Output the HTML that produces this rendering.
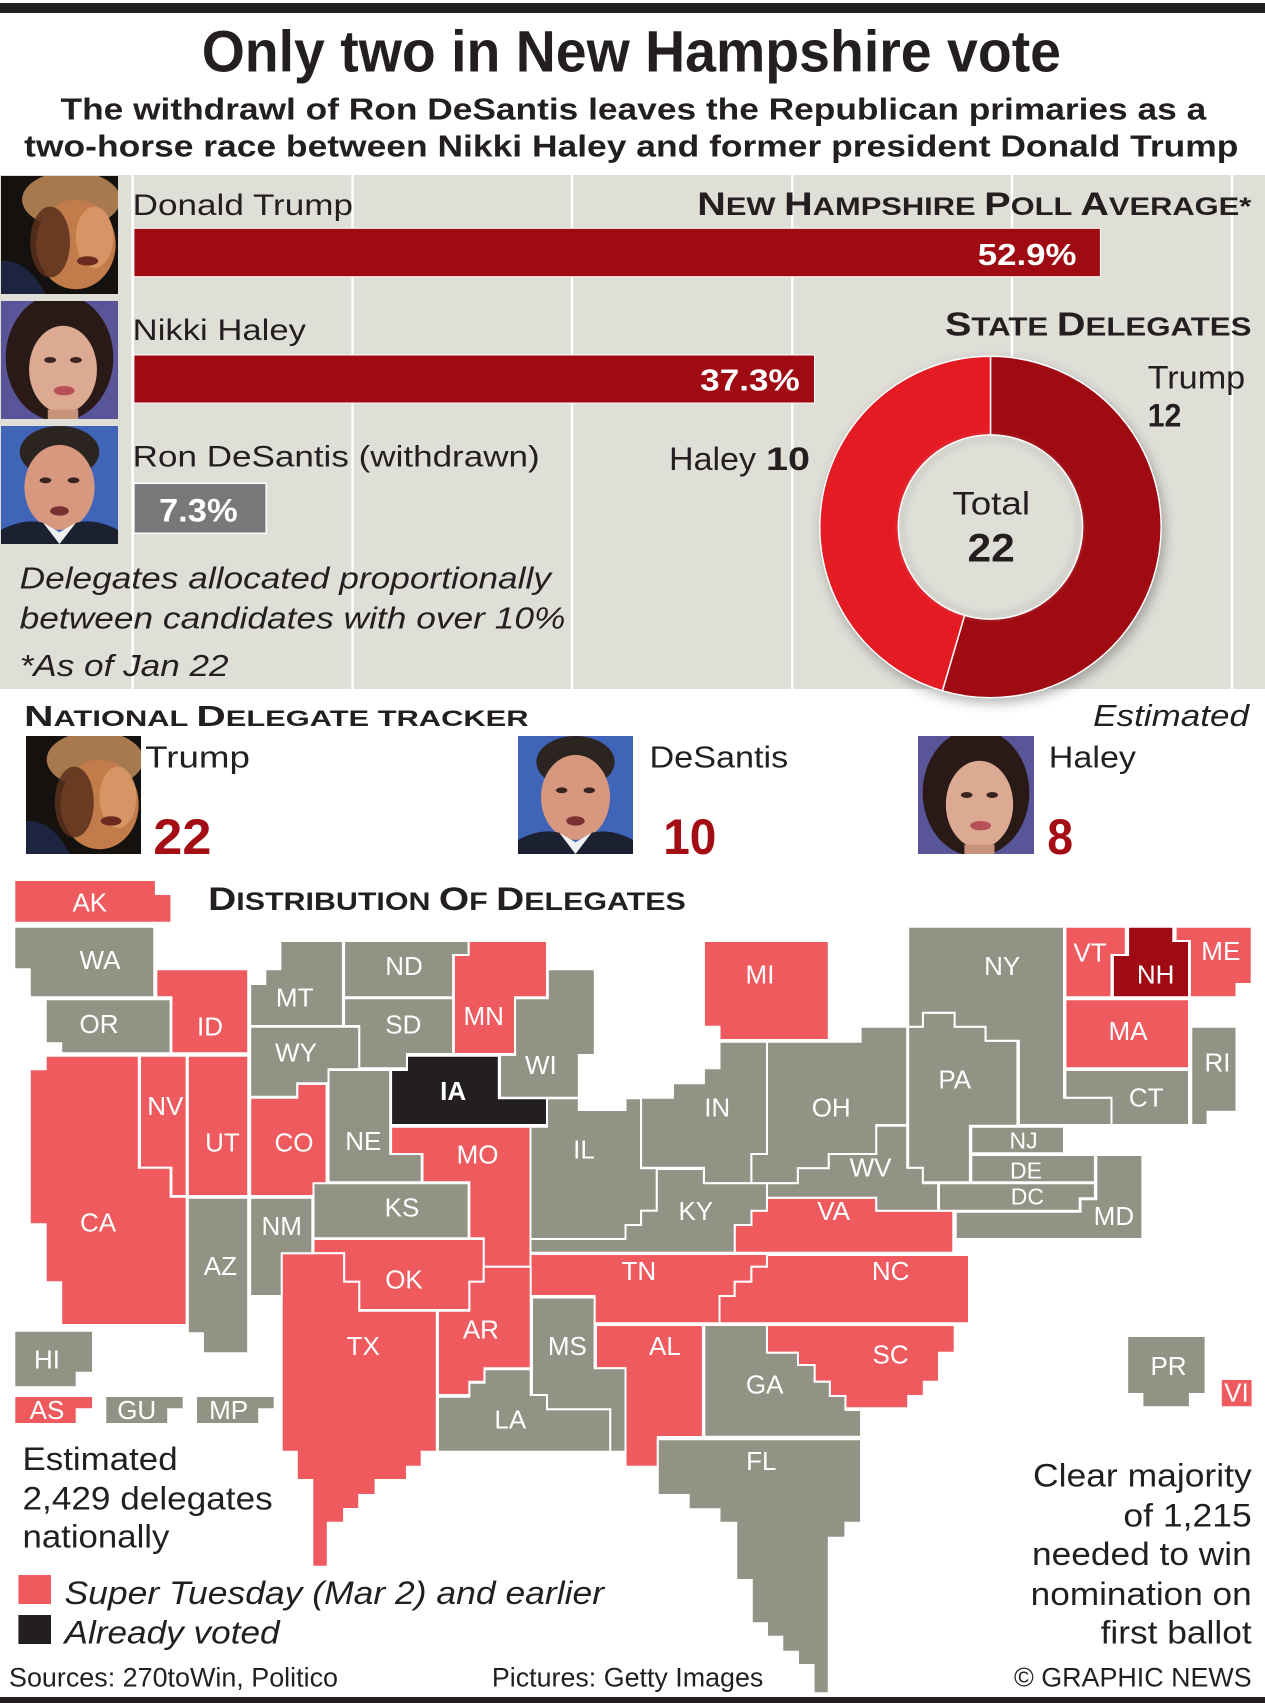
<!DOCTYPE html>
<html>
<head>
<meta charset="utf-8">
<style>
html,body{margin:0;padding:0;background:#fff;}
svg{display:block;}
text{font-family:"Liberation Sans",Arial,sans-serif;fill:#231f20;}
</style>
</head>
<body>
<svg xmlns="http://www.w3.org/2000/svg" width="1265" height="1703" viewBox="0 0 1265 1703">
<defs>
  <filter id="blur6" x="-30%" y="-30%" width="160%" height="160%"><feGaussianBlur stdDeviation="6"/></filter>
  <filter id="blur3" x="-30%" y="-30%" width="160%" height="160%"><feGaussianBlur stdDeviation="3"/></filter>
  <symbol id="pTrump" viewBox="0 0 100 100" preserveAspectRatio="none">
    <rect width="100" height="100" fill="#15110f"/>
    <ellipse cx="60" cy="20" rx="42" ry="24" fill="#a8784e"/>
    <ellipse cx="64" cy="58" rx="34" ry="38" fill="#c27c4c"/>
    <ellipse cx="80" cy="52" rx="16" ry="26" fill="#e0a070" opacity="0.7"/>
    <ellipse cx="42" cy="56" rx="17" ry="30" fill="#5a301c" opacity="0.85"/>
    <ellipse cx="74" cy="72" rx="9" ry="4" fill="#6a2a20"/>
    <path d="M0 72 Q22 70 38 100 L0 100Z" fill="#1d2440"/>
  </symbol>
  <symbol id="pHaley" viewBox="0 0 100 100" preserveAspectRatio="none">
    <rect width="100" height="100" fill="#5a5599"/>
    <ellipse cx="50" cy="48" rx="46" ry="54" fill="#2a1a17"/>
    <ellipse cx="53" cy="58" rx="29" ry="37" fill="#dcaa92"/>
    <ellipse cx="42" cy="50" rx="5" ry="2.5" fill="#3a2420"/>
    <ellipse cx="64" cy="50" rx="5" ry="2.5" fill="#3a2420"/>
    <ellipse cx="54" cy="76" rx="9" ry="4" fill="#b8505a"/>
    <rect x="40" y="92" width="26" height="8" fill="#c8917a"/>
  </symbol>
  <symbol id="pDeSantis" viewBox="0 0 100 100" preserveAspectRatio="none">
    <rect width="100" height="100" fill="#3f64b8"/>
    <ellipse cx="50" cy="22" rx="34" ry="22" fill="#2b2420"/>
    <ellipse cx="50" cy="52" rx="30" ry="36" fill="#d8977f"/>
    <ellipse cx="38" cy="46" rx="5" ry="2.5" fill="#3a2420"/>
    <ellipse cx="62" cy="46" rx="5" ry="2.5" fill="#3a2420"/>
    <ellipse cx="50" cy="72" rx="8" ry="4" fill="#7a3030"/>
    <path d="M0 100 L0 88 Q20 78 36 82 L50 100Z" fill="#1c2132"/>
    <path d="M100 100 L100 88 Q80 78 64 82 L50 100Z" fill="#1c2132"/>
    <path d="M36 82 L50 100 L64 82 L50 90Z" fill="#f0f0f0"/>
  </symbol>
</defs>

<!-- top bar -->
<rect x="0" y="3" width="1265" height="10" fill="#231f20"/>

<!-- headline -->
<text x="201.7" y="71.7" font-size="58" font-weight="bold" textLength="859.3" lengthAdjust="spacingAndGlyphs">Only two in New Hampshire vote</text>
<text x="60.5" y="119.3" font-size="31" font-weight="bold" textLength="1145.7" lengthAdjust="spacingAndGlyphs">The withdrawl of Ron DeSantis leaves the Republican primaries as a</text>
<text x="24.2" y="156.7" font-size="31" font-weight="bold" textLength="1214.2" lengthAdjust="spacingAndGlyphs">two-horse race between Nikki Haley and former president Donald Trump</text>

<!-- grey panel -->
<rect x="0" y="175" width="1265" height="514" fill="#dfded7"/>
<g stroke="#ffffff" stroke-width="2.5">
  <line x1="132.6" y1="175" x2="132.6" y2="689"/>
  <line x1="352.6" y1="175" x2="352.6" y2="689"/>
  <line x1="572" y1="175" x2="572" y2="689"/>
  <line x1="792.3" y1="175" x2="792.3" y2="689"/>
  <line x1="1012" y1="175" x2="1012" y2="689"/>
  <line x1="1232" y1="175" x2="1232" y2="689"/>
</g>

<!-- photos top -->
<use href="#pTrump" x="1" y="176" width="117" height="118"/>
<use href="#pHaley" x="1" y="301" width="117" height="118"/>
<use href="#pDeSantis" x="1" y="426" width="117" height="118"/>

<!-- bars -->
<text x="132.7" y="215" font-size="30" textLength="220.3" lengthAdjust="spacingAndGlyphs">Donald Trump</text>
<text x="697.3" y="215" font-size="32" font-weight="bold" textLength="554" lengthAdjust="spacingAndGlyphs">N<tspan font-size="25">EW </tspan>H<tspan font-size="25">AMPSHIRE </tspan> P<tspan font-size="25">OLL </tspan>A<tspan font-size="25">VERAGE*</tspan></text>
<rect x="133.9" y="228.3" width="966.5" height="48.4" fill="#a00a12" stroke="#ffffff" stroke-width="1"/>
<text x="977.8" y="265" font-size="31" font-weight="bold" style="fill:#fff" textLength="98.7" lengthAdjust="spacingAndGlyphs">52.9%</text>

<text x="132.7" y="340" font-size="30" textLength="173.3" lengthAdjust="spacingAndGlyphs">Nikki Haley</text>
<text x="945" y="335.7" font-size="33" font-weight="bold" textLength="306.4" lengthAdjust="spacingAndGlyphs">S<tspan font-size="26">TATE </tspan>D<tspan font-size="26">ELEGATES</tspan></text>
<rect x="133.9" y="355" width="680.6" height="48" fill="#a00a12" stroke="#ffffff" stroke-width="1"/>
<text x="700.2" y="390.7" font-size="31" font-weight="bold" style="fill:#fff" textLength="99.5" lengthAdjust="spacingAndGlyphs">37.3%</text>

<text x="132.7" y="466.7" font-size="30" textLength="407" lengthAdjust="spacingAndGlyphs">Ron DeSantis (withdrawn)</text>
<rect x="133.9" y="483.3" width="132.3" height="50" fill="#78787b" stroke="#ffffff" stroke-width="1.5"/>
<text x="159" y="521.7" font-size="32" font-weight="bold" style="fill:#fff" textLength="78.6" lengthAdjust="spacingAndGlyphs">7.3%</text>

<text x="19.6" y="588.3" font-size="31" font-style="italic" textLength="531.4" lengthAdjust="spacingAndGlyphs">Delegates allocated proportionally</text>
<text x="19.6" y="628.3" font-size="31" font-style="italic" textLength="545.8" lengthAdjust="spacingAndGlyphs">between candidates with over 10%</text>
<text x="19.6" y="676" font-size="31" font-style="italic" textLength="209" lengthAdjust="spacingAndGlyphs">*As of Jan 22</text>

<!-- donut -->
<circle cx="993" cy="532" r="171" fill="#000" opacity="0.3" filter="url(#blur6)"/>
<path d="M990.5 356.3 A170.7 170.7 0 1 1 942.4 690.8 L964.6 615.3 A92 92 0 1 0 990.5 435 Z" fill="#a00a12" stroke="#ffffff" stroke-width="1.5"/>
<path d="M942.4 690.8 A170.7 170.7 0 0 1 990.5 356.3 L990.5 435 A92 92 0 0 0 964.6 615.3 Z" fill="#e51b24" stroke="#ffffff" stroke-width="1.5"/>
<circle cx="990.5" cy="527" r="91" fill="#dfded7"/>
<circle cx="990.5" cy="527" r="88" fill="none" stroke="#c9c8c1" stroke-width="4" filter="url(#blur3)"/>
<circle cx="990.5" cy="527" r="92" fill="none" stroke="#ffffff" stroke-width="1.5"/>

<text x="1147.7" y="388.3" font-size="32" textLength="97.5" lengthAdjust="spacingAndGlyphs">Trump</text>
<text x="1147.7" y="426.7" font-size="32" font-weight="bold" textLength="33.7" lengthAdjust="spacingAndGlyphs">12</text>
<text x="669" y="470" font-size="32" textLength="87" lengthAdjust="spacingAndGlyphs">Haley</text>
<text x="766" y="470" font-size="32" font-weight="bold" textLength="44" lengthAdjust="spacingAndGlyphs">10</text>
<text x="952.3" y="514.3" font-size="32" textLength="77.7" lengthAdjust="spacingAndGlyphs">Total</text>
<text x="967.5" y="561.7" font-size="40" font-weight="bold" textLength="47.3" lengthAdjust="spacingAndGlyphs">22</text>

<!-- national tracker -->
<text x="24.2" y="726" font-size="29" font-weight="bold" textLength="504.3" lengthAdjust="spacingAndGlyphs">N<tspan font-size="22">ATIONAL </tspan>D<tspan font-size="22">ELEGATE TRACKER</tspan></text>
<text x="1093.2" y="726" font-size="31" font-style="italic" textLength="155.8" lengthAdjust="spacingAndGlyphs">Estimated</text>

<use href="#pTrump" x="26" y="736" width="115" height="118"/>
<use href="#pDeSantis" x="518" y="736" width="115" height="118"/>
<use href="#pHaley" x="918" y="736" width="116" height="118"/>

<text x="145.2" y="767.3" font-size="31" textLength="104.8" lengthAdjust="spacingAndGlyphs">Trump</text>
<text x="649.5" y="767.3" font-size="31" textLength="138.7" lengthAdjust="spacingAndGlyphs">DeSantis</text>
<text x="1048.8" y="767.3" font-size="31" textLength="87.2" lengthAdjust="spacingAndGlyphs">Haley</text>
<text x="153.3" y="854" font-size="50" font-weight="bold" style="fill:#a50d15" textLength="58.1" lengthAdjust="spacingAndGlyphs">22</text>
<text x="663.2" y="854" font-size="50" font-weight="bold" style="fill:#a50d15" textLength="53.2" lengthAdjust="spacingAndGlyphs">10</text>
<text x="1047.2" y="854" font-size="50" font-weight="bold" style="fill:#a50d15" textLength="25.8" lengthAdjust="spacingAndGlyphs">8</text>

<text x="208.2" y="910" font-size="32" font-weight="bold" textLength="477.6" lengthAdjust="spacingAndGlyphs">D<tspan font-size="25">ISTRIBUTION </tspan>O<tspan font-size="25">F </tspan>D<tspan font-size="25">ELEGATES</tspan></text>

<!-- map -->
<g stroke="#ffffff" stroke-width="2" stroke-linejoin="miter">
<g fill="#ef5a5f">
<polygon points="14.3,880 155.9,880 155.9,894 171.4,894 171.4,922.7 14.3,922.7"/>
<polygon points="156.3,969.3 248.2,969.3 248.2,1053.3 171.4,1053.3 171.4,997.3 156.3,997.3"/>
<polygon points="468.6,941 547,941 547,997.3 515.1,997.3 515.1,1054 453.9,1054 453.9,955 468.6,955"/>
<polygon points="140,1055.7 186.6,1055.7 186.6,1196 171.4,1196 171.4,1167.7 140,1167.7"/>
<polygon points="187.8,1055.7 248.2,1055.7 248.2,1196 187.8,1196"/>
<polygon points="250.2,1097.7 297.2,1097.7 297.2,1084 326.6,1084 326.6,1196 250.2,1196"/>
<polygon points="29.8,1069.3 45.7,1069.3 45.7,1055.7 138.8,1055.7 138.8,1167.7 170.6,1167.7 170.6,1196.7 186.6,1196.7 186.6,1325 61.2,1325 61.2,1282.3 45.7,1282.3 45.7,1224.3 29.8,1224.3"/>
<polygon points="391.1,1126.7 530.7,1126.7 530.7,1266.7 483.7,1266.7 483.7,1238.3 469.4,1238.3 469.4,1182.3 422.5,1182.3 422.5,1154 391.1,1154"/>
<polygon points="703.9,941 828.8,941 828.8,1040 719.5,1040 719.5,1026.7 703.9,1026.7"/>
<polygon points="767,1197.7 876.3,1197.7 876.3,1210.7 953.3,1210.7 953.3,1252.7 734.7,1252.7 734.7,1225 751.4,1225 751.4,1210.7 767,1210.7"/>
<polygon points="530.5,1254 767,1254 767,1266.7 751.4,1266.7 751.4,1281.7 734.7,1281.7 734.7,1296 719.5,1296 719.5,1323.3 594.6,1323.3 594.6,1296 530.5,1296"/>
<polygon points="767,1255 969,1255 969,1323.3 719.5,1323.3 719.5,1296 734.7,1296 734.7,1281.7 751.4,1281.7 751.4,1266.7 767,1266.7"/>
<polygon points="1065.4,926.7 1125.8,926.7 1125.8,955 1111.5,955 1111.5,997.3 1065.4,997.3"/>
<polygon points="1175.6,926.7 1251.7,926.7 1251.7,984 1236.5,984 1236.5,997.3 1189.9,997.3 1189.9,941 1175.6,941"/>
<polygon points="1065.4,999.3 1189,999.3 1189,1068.3 1065.4,1068.3"/>
<polygon points="313.5,1239 483.7,1239 483.7,1281.7 469.4,1281.7 469.4,1310 359.2,1310 359.2,1281.7 344.1,1281.7 344.1,1253.3 313.5,1253.3"/>
<polygon points="281.7,1253.3 344.1,1253.3 344.1,1281.7 359.2,1281.7 359.2,1310.7 436.8,1310.7 436.8,1451.7 421.7,1451.7 421.7,1466.7 407,1466.7 407,1480 375.6,1480 375.6,1495 359.2,1495 359.2,1509 344.1,1509 344.1,1522.7 327.8,1522.7 327.8,1566.7 312.3,1566.7 312.3,1480 296.8,1480 296.8,1451.7 281.7,1451.7"/>
<polygon points="483.7,1266.7 530.7,1266.7 530.7,1368.3 484.5,1368.3 484.5,1381.7 469.4,1381.7 469.4,1395 438,1395 438,1310.7 469.4,1310.7 469.4,1281.7 483.7,1281.7"/>
<polygon points="596,1325 702.9,1325 702.9,1437 657.8,1437 657.8,1466.7 625.5,1466.7 625.5,1368.3 596,1368.3"/>
<polygon points="767,1325 954.7,1325 954.7,1352.7 939,1352.7 939,1381.7 923.8,1381.7 923.8,1396 908.2,1396 908.2,1408.3 845.4,1408.3 845.4,1396 829.8,1396 829.8,1381.7 814.6,1381.7 814.6,1365 798,1365 798,1352.7 767,1352.7"/>
<polygon points="14.3,1396 93.1,1396 93.1,1409.3 76.7,1409.3 76.7,1424 14.3,1424"/>
<polygon points="1220.8,1379 1252.6,1379 1252.6,1407.3 1220.8,1407.3"/>
</g>
<g fill="#929285">
<polygon points="14.3,926.7 154.3,926.7 154.3,997.3 29.8,997.3 29.8,969.3 14.3,969.3"/>
<polygon points="45.7,999.3 170.6,999.3 170.6,1053.3 61.2,1053.3 61.2,1043.3 45.7,1043.3"/>
<polygon points="280.4,941 342.9,941 342.9,1026 250.2,1026 250.2,984 265.3,984 265.3,969.3 280.4,969.3"/>
<polygon points="344.1,941 468.6,941 468.6,955 453.1,955 453.1,997.3 344.1,997.3"/>
<polygon points="344.1,998.3 453.1,998.3 453.1,1054 407,1054 407,1068.3 359.2,1068.3 359.2,1026 344.1,1026"/>
<polygon points="250.2,1026.7 359.2,1026.7 359.2,1069.3 328.6,1069.3 328.6,1083.3 297.2,1083.3 297.2,1096.7 250.2,1096.7"/>
<polygon points="547.8,969.3 594.8,969.3 594.8,1055 578.8,1055 578.8,1097.7 500,1097.7 500,1055 515.1,1055 515.1,998.3 547.8,998.3"/>
<polygon points="328.6,1070 390.2,1070 390.2,1154 421.7,1154 421.7,1182.3 328.6,1182.3"/>
<polygon points="187.8,1197.7 248.2,1197.7 248.2,1353.3 202.9,1353.3 202.9,1333.3 187.8,1333.3"/>
<polygon points="250.2,1197.7 312.3,1197.7 312.3,1253.3 281.7,1253.3 281.7,1296 250.2,1296"/>
<polygon points="313.5,1183.3 468.6,1183.3 468.6,1238.3 313.5,1238.3"/>
<polygon points="530.5,1126.7 547,1126.7 547,1098.3 578.8,1098.3 578.8,1110 625.5,1110 625.5,1098.3 641.1,1098.3 641.1,1168.3 656.8,1168.3 656.8,1210.7 641.1,1210.7 641.1,1225 625.5,1225 625.5,1239 530.5,1239"/>
<polygon points="719.5,1041.7 767,1041.7 767,1154 751.4,1154 751.4,1183.3 703.9,1183.3 703.9,1167.7 641.1,1167.7 641.1,1097.7 673,1097.7 673,1083.3 703.9,1083.3 703.9,1068.3 719.5,1068.3"/>
<polygon points="767,1041.7 860.6,1041.7 860.6,1026.7 907.2,1026.7 907.2,1125 876.3,1125 876.3,1154 828.8,1154 828.8,1168.3 797.9,1168.3 797.9,1183.3 751.4,1183.3 751.4,1154 767,1154"/>
<polygon points="876.3,1125.7 907.2,1125.7 907.2,1167.7 922.9,1167.7 922.9,1183.3 938.1,1183.3 938.1,1210.7 876.3,1210.7 876.3,1197.7 767,1197.7 767,1183.3 797.9,1183.3 797.9,1168.3 828.8,1168.3 828.8,1154 876.3,1154"/>
<polygon points="656.8,1169 703.9,1169 703.9,1183.3 767,1183.3 767,1210.7 751.4,1210.7 751.4,1225 734.7,1225 734.7,1252.7 530.5,1252.7 530.5,1239 625.5,1239 625.5,1225 641.1,1225 641.1,1210.7 656.8,1210.7"/>
<polygon points="908.2,1026.7 922.9,1026.7 922.9,1012.7 954.7,1012.7 954.7,1026.7 985.6,1026.7 985.6,1040.7 1017.4,1040.7 1017.4,1125.7 969.9,1125.7 969.9,1182.3 922.9,1182.3 922.9,1167.7 908.2,1167.7"/>
<polygon points="908.2,926.7 1064,926.7 1064,1097.7 1111.5,1097.7 1111.5,1125 1018.9,1125 1018.9,1040.7 985.6,1040.7 985.6,1026.7 954.7,1026.7 954.7,1012.7 922.9,1012.7 922.9,1026.7 908.2,1026.7"/>
<polygon points="1065.4,1070 1189,1070 1189,1125 1111.5,1125 1111.5,1097.7 1065.4,1097.7"/>
<polygon points="1191.3,1026.7 1236.5,1026.7 1236.5,1111.7 1207.6,1111.7 1207.6,1125 1191.3,1125"/>
<polygon points="971.3,1126.7 1064,1126.7 1064,1153.3 971.3,1153.3"/>
<polygon points="971.3,1155 1094.9,1155 1094.9,1182.3 971.3,1182.3"/>
<polygon points="939,1183.3 1094.9,1183.3 1094.9,1198.3 1079.7,1198.3 1079.7,1210.7 939,1210.7"/>
<polygon points="1096.3,1155 1142.4,1155 1142.4,1239 955.7,1239 955.7,1211.7 1080.6,1211.7 1080.6,1199.3 1096.3,1199.3"/>
<polygon points="438,1396.7 469.4,1396.7 469.4,1382.7 484.5,1382.7 484.5,1369.3 530.7,1369.3 530.7,1395 547,1395 547,1409.3 610.3,1409.3 610.3,1451.7 438,1451.7"/>
<polygon points="532,1297.5 594.6,1297.5 594.6,1368.3 625.5,1368.3 625.5,1451.7 610.3,1451.7 610.3,1409.3 547,1409.3 547,1395 532,1395"/>
<polygon points="704.3,1325 767,1325 767,1352.7 798,1352.7 798,1365 814.6,1365 814.6,1381.7 829.8,1381.7 829.8,1396 845.4,1396 845.4,1410 861.1,1410 861.1,1436.7 704.3,1436.7"/>
<polygon points="657.8,1439.3 861.1,1439.3 861.1,1522.7 845.4,1522.7 845.4,1537.7 828.8,1537.7 828.8,1693.3 813.6,1693.3 813.6,1665 798,1665 798,1651.7 782.3,1651.7 782.3,1636.7 767,1636.7 767,1623.3 751.8,1623.3 751.8,1580 736.2,1580 736.2,1522.7 719.5,1522.7 719.5,1509.3 688.7,1509.3 688.7,1495 657.8,1495"/>
<polygon points="14.3,1330.7 93.1,1330.7 93.1,1372.7 76.7,1372.7 76.7,1387.3 14.3,1387.3"/>
<polygon points="105.3,1396 183.7,1396 183.7,1409.3 168.2,1409.3 168.2,1424 105.3,1424"/>
<polygon points="196,1396 274.7,1396 274.7,1409.3 259.2,1409.3 259.2,1424 196,1424"/>
<polygon points="1127.2,1336 1205.6,1336 1205.6,1394 1189.9,1394 1189.9,1407.3 1142.4,1407.3 1142.4,1394 1127.2,1394"/>
</g>
<polygon fill="#231f20" points="407,1055.7 498.8,1055.7 498.8,1098.3 547,1098.3 547,1125 391.1,1125 391.1,1070 407,1070"/>
<polygon fill="#a00a12" points="1128.1,926.7 1173.3,926.7 1173.3,941 1189,941 1189,997.3 1112.9,997.3 1112.9,955 1128.1,955"/>
</g>

<!-- map labels -->
<g font-size="26" text-anchor="middle">
<text x="89.8" y="911.7" style="fill:#fff">AK</text>
<text x="100" y="969" style="fill:#fff">WA</text>
<text x="99" y="1033" style="fill:#fff">OR</text>
<text x="210" y="1035.7" style="fill:#fff">ID</text>
<text x="294.7" y="1006.7" style="fill:#fff">MT</text>
<text x="404" y="975" style="fill:#fff">ND</text>
<text x="483.7" y="1025" style="fill:#fff">MN</text>
<text x="403.3" y="1033.3" style="fill:#fff">SD</text>
<text x="296" y="1061.7" style="fill:#fff">WY</text>
<text x="540.9" y="1074" style="fill:#fff">WI</text>
<text x="453.1" y="1100" font-weight="bold" style="fill:#fff">IA</text>
<text x="363.3" y="1150" style="fill:#fff">NE</text>
<text x="165.3" y="1115" style="fill:#fff">NV</text>
<text x="222.5" y="1151.7" style="fill:#fff">UT</text>
<text x="294" y="1151.7" style="fill:#fff">CO</text>
<text x="98" y="1231.7" style="fill:#fff">CA</text>
<text x="220.4" y="1275" style="fill:#fff">AZ</text>
<text x="281.7" y="1235" style="fill:#fff">NM</text>
<text x="402" y="1216.7" style="fill:#fff">KS</text>
<text x="477.6" y="1163.3" style="fill:#fff">MO</text>
<text x="584" y="1158.3" style="fill:#fff">IL</text>
<text x="717.2" y="1116.7" style="fill:#fff">IN</text>
<text x="760" y="983.3" style="fill:#fff">MI</text>
<text x="831.2" y="1116.7" style="fill:#fff">OH</text>
<text x="870.6" y="1176.7" style="fill:#fff">WV</text>
<text x="695.8" y="1220" style="fill:#fff">KY</text>
<text x="833.6" y="1220" style="fill:#fff">VA</text>
<text x="638.8" y="1280" style="fill:#fff">TN</text>
<text x="890.6" y="1280" style="fill:#fff">NC</text>
<text x="954.7" y="1088.3" style="fill:#fff">PA</text>
<text x="1002.2" y="975" style="fill:#fff">NY</text>
<text x="1090" y="961.7" style="fill:#fff">VT</text>
<text x="1155.7" y="983.3" style="fill:#fff">NH</text>
<text x="1220.8" y="960" style="fill:#fff">ME</text>
<text x="1128" y="1040" style="fill:#fff">MA</text>
<text x="1146.2" y="1106.7" style="fill:#fff">CT</text>
<text x="1217.5" y="1071.7" style="fill:#fff">RI</text>
<text x="1023.6" y="1148.3" font-size="23" style="fill:#fff">NJ</text>
<text x="1026" y="1178.3" font-size="23" style="fill:#fff">DE</text>
<text x="1027.4" y="1204.3" font-size="23" style="fill:#fff">DC</text>
<text x="1113.9" y="1225" style="fill:#fff">MD</text>
<text x="404" y="1288.3" style="fill:#fff">OK</text>
<text x="363.3" y="1355" style="fill:#fff">TX</text>
<text x="480.9" y="1338.3" style="fill:#fff">AR</text>
<text x="510.3" y="1428.3" style="fill:#fff">LA</text>
<text x="567.4" y="1355" style="fill:#fff">MS</text>
<text x="664.9" y="1355" style="fill:#fff">AL</text>
<text x="764.7" y="1393.3" style="fill:#fff">GA</text>
<text x="890.6" y="1363.3" style="fill:#fff">SC</text>
<text x="761.3" y="1470" style="fill:#fff">FL</text>
<text x="47" y="1368.3" style="fill:#fff">HI</text>
<text x="47" y="1419" style="fill:#fff">AS</text>
<text x="136.7" y="1419" style="fill:#fff">GU</text>
<text x="228.6" y="1419" style="fill:#fff">MP</text>
<text x="1168.5" y="1375" style="fill:#fff">PR</text>
<text x="1236.5" y="1401.7" style="fill:#fff">VI</text>
</g>

<!-- bottom-left notes -->
<text x="22.5" y="1470" font-size="32" textLength="155.1" lengthAdjust="spacingAndGlyphs">Estimated</text>
<text x="22.5" y="1509.3" font-size="32" textLength="250.2" lengthAdjust="spacingAndGlyphs">2,429 delegates</text>
<text x="22.5" y="1547.3" font-size="32" textLength="146.9" lengthAdjust="spacingAndGlyphs">nationally</text>

<rect x="18.4" y="1575" width="32.6" height="29" fill="#ef5a5f"/>
<text x="64.5" y="1604" font-size="32" font-style="italic" textLength="539.5" lengthAdjust="spacingAndGlyphs">Super Tuesday (Mar 2) and earlier</text>
<rect x="18.4" y="1615" width="32.6" height="29" fill="#231f20"/>
<text x="64.5" y="1643.3" font-size="32" font-style="italic" textLength="215.1" lengthAdjust="spacingAndGlyphs">Already voted</text>

<!-- right notes -->
<text x="1033" y="1486.7" font-size="32" textLength="218.7" lengthAdjust="spacingAndGlyphs">Clear majority</text>
<text x="1123.4" y="1526.7" font-size="32" textLength="128.3" lengthAdjust="spacingAndGlyphs">of 1,215</text>
<text x="1032" y="1565" font-size="32" textLength="219.7" lengthAdjust="spacingAndGlyphs">needed to win</text>
<text x="1030.7" y="1605" font-size="32" textLength="221" lengthAdjust="spacingAndGlyphs">nomination on</text>
<text x="1100.6" y="1643.3" font-size="32" textLength="151.1" lengthAdjust="spacingAndGlyphs">first ballot</text>

<!-- footer -->
<text x="9" y="1686.7" font-size="27" textLength="329" lengthAdjust="spacingAndGlyphs">Sources: 270toWin, Politico</text>
<text x="491.9" y="1686.7" font-size="27" textLength="271.4" lengthAdjust="spacingAndGlyphs">Pictures: Getty Images</text>
<text x="1014" y="1686.7" font-size="27" textLength="237.7" lengthAdjust="spacingAndGlyphs">© GRAPHIC NEWS</text>
<rect x="0" y="1697" width="1265" height="6" fill="#231f20"/>
</svg>
</body>
</html>
